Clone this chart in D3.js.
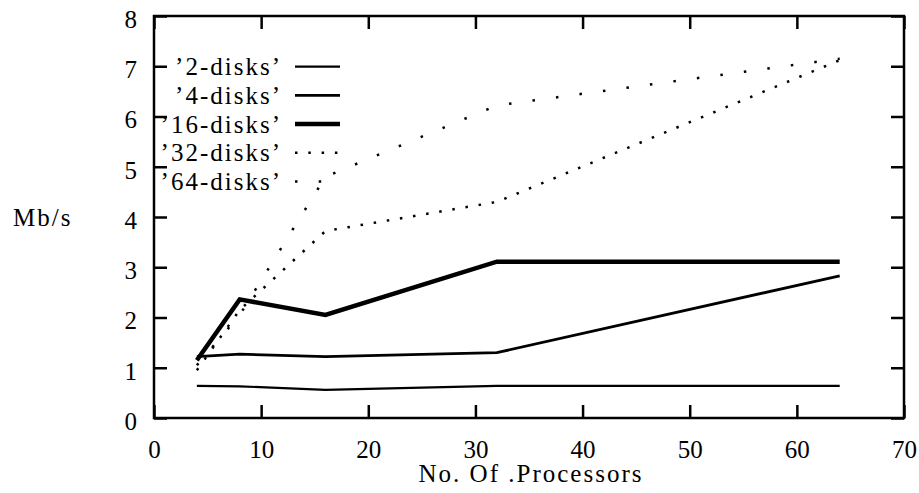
<!DOCTYPE html>
<html>
<head>
<meta charset="utf-8">
<script src="https://cdn.jsdelivr.net/npm/d3@7"></script>
<style>
  body { margin: 0; background: #fff; }
  svg { display: block; }
  text { font-family: 'Liberation Serif', 'Times New Roman', serif; fill: #000; }
</style>
</head>
<body>
<svg width="919" height="493"></svg>
<script>
//number of processors on the x axis
const processors = [4, 8, 16, 32, 64]
//throughput per disk count
const disks2 = [0.64, 0.63, 0.56, 0.64, 0.64]
const disks4 = [1.22, 1.27, 1.22, 1.30, 2.83]
const disks16 = [1.15, 2.36, 2.05, 3.11, 3.11]
const disks32 = [0.95, 2.15, 3.72, 4.30, 7.12]
const disks64 = [1.05, 2.05, 4.80, 6.22, 7.15]
const seriesNames = ['’2-disks’', '’4-disks’', '’16-disks’', '’32-disks’', '’64-disks’']
const xTicks = [0, 10, 20, 30, 40, 50, 60, 70]
const yTicks = [0, 1, 2, 3, 4, 5, 6, 7, 8]

//line styles for every series, same order as the names
const widths = [2.2, 2.8, 4.5, 2.5, 2.5]
const dashes = [null, null, null, '2.5 10.8', '2.5 21.2']

const svg = d3.select('svg')
const margin = { top: 16, right: 15, bottom: 75, left: 154 }
const width = +svg.attr('width')
const height = +svg.attr('height')
const innerWidth = width - margin.left - margin.right
const innerHeight = height - margin.top - margin.bottom

const xScale = d3.scaleLinear().domain([0, 70]).range([0, innerWidth])
const yScale = d3.scaleLinear().domain([0, 8]).range([innerHeight, 0])

const g = svg.append('g')
    .attr('transform', `translate(${margin.left}, ${margin.top})`)

//bottom axis with ticks pointing inward
const axisB = g.append('g')
    .attr('transform', `translate(0, ${innerHeight})`)
    .call(d3.axisBottom(xScale).tickValues(xTicks).tickSize(-13).tickPadding(22))
//left axis
const axisL = g.append('g')
    .call(d3.axisLeft(yScale).tickValues(yTicks).tickSize(-13).tickPadding(17))
//mirror ticks on top and right
const axisT = g.append('g')
    .call(d3.axisTop(xScale).tickValues(xTicks).tickSize(-13))
const axisR = g.append('g')
    .attr('transform', `translate(${innerWidth}, 0)`)
    .call(d3.axisRight(yScale).tickValues(yTicks).tickSize(-13))
//no labels on the mirrored sides
axisT.selectAll('text').remove()
axisR.selectAll('text').remove()

;[axisB, axisL, axisT, axisR].forEach(a => {
    a.select('.domain').remove()
    a.selectAll('line').attr('stroke', '#000').attr('stroke-width', 2.5)
    a.selectAll('text')
        .attr('font-family', null)
        .style('font-size', '25px')
})
axisL.selectAll('text').attr('dy', '0.45em')

//frame round the plot
g.append('rect')
    .attr('width', innerWidth)
    .attr('height', innerHeight)
    .attr('fill', 'none')
    .attr('stroke', '#000')
    .attr('stroke-width', 2.5)

//one line per disk count
const series = [disks2, disks4, disks16, disks32, disks64]
const line = d3.line()
    .x((d, i) => xScale(processors[i]))
    .y(d => yScale(d))

g.selectAll('.series')
    .data(series)
    .enter()
    .append('path')
        .attr('class', 'series')
        .attr('d', line)
        .attr('fill', 'none')
        .attr('stroke', '#000')
        .attr('stroke-width', (d, i) => widths[i])
        .attr('stroke-dasharray', (d, i) => dashes[i])

//legend in the top left corner
const legend = svg.selectAll('.legend')
    .data(seriesNames)
    .enter().append('g')
    .attr('class', 'legend')
    .attr('transform', (d, i) => `translate(0, ${66.7 + i * 28.7})`)
legend.append('text')
    .attr('x', 282)
    .attr('y', 8.5)
    .style('text-anchor', 'end')
    .style('font-size', '25px')
    .style('letter-spacing', '2px')
    .text(d => d)
legend.append('line')
    .attr('x1', 295)
    .attr('x2', 340)
    .attr('stroke', '#000')
    .attr('stroke-width', (d, i) => widths[i])
    .attr('stroke-dasharray', (d, i) => dashes[i])

//axis titles
svg.append('text')
    .attr('x', 13)
    .attr('y', 226)
    .style('font-size', '25px')
    .style('letter-spacing', '2px')
    .text('Mb/s')
svg.append('text')
    .attr('x', margin.left + innerWidth / 2 + 2)
    .attr('y', 482)
    .style('text-anchor', 'middle')
    .style('font-size', '25px')
    .style('letter-spacing', '2px')
    .text('No. Of .Processors')
</script>
</body>
</html>
